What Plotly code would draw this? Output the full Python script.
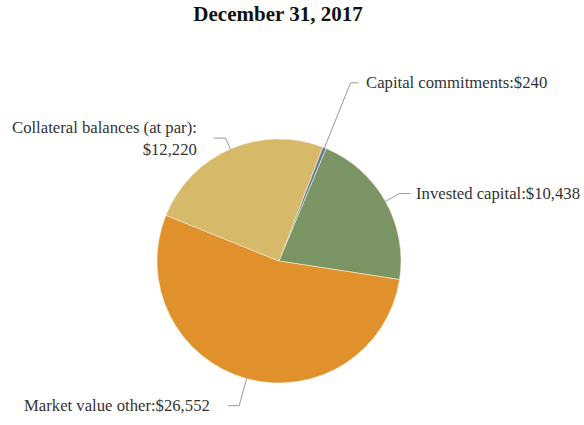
import math
import plotly.graph_objects as go

# Balances at December 31, 2017 (in thousands)
categories = [
    "Capital commitments",
    "Invested capital",
    "Market value other",
    "Collateral balances (at par)",
]
values = [240, 10438, 26552, 12220]
value_labels = ["$240", "$10,438", "$26,552", "$12,220"]
colors = ["#5f7a9a", "#7b9463", "#e1912b", "#d7b96a"]

W, H = 584, 425
CX, CY, R = 279, 261, 122          # pie centre and radius in pixels
ROTATION = 21                      # start angle, degrees clockwise from 12 o'clock

# leader line layout per slice: radial extension, horizontal run, text gap (px), side
leader_ext = [70, 16, 28, 12]
leader_run = [8, 11, 11, 12]
leader_gap = [6, 5, 17, 16]
leader_side = [1, 1, -1, -1]

FONT = "Liberation Serif, Times New Roman, serif"

fig = go.Figure()
fig.add_trace(go.Pie(
    labels=categories,
    values=values,
    sort=False,
    direction="clockwise",
    rotation=ROTATION,
    marker=dict(colors=colors, line=dict(color="#f4ecd8", width=0.6)),
    textinfo="none",
    hoverinfo="label+value",
    showlegend=False,
    domain=dict(x=[(CX - R) / W, (CX + R) / W],
                y=[1 - (CY + R) / H, 1 - (CY - R) / H]),
))


def px(x, y):
    return x / W, 1 - y / H


total = sum(values)
start = ROTATION
shapes, annotations = [], []
for i, v in enumerate(values):
    sweep = 360 * v / total
    mid = math.radians(start + sweep / 2)
    start += sweep
    sx, sy = math.sin(mid), -math.cos(mid)
    x0, y0 = CX + R * sx, CY + R * sy
    x1, y1 = CX + (R + leader_ext[i]) * sx, CY + (R + leader_ext[i]) * sy
    x2, y2 = x1 + leader_side[i] * leader_run[i], y1
    p0, p1, p2 = px(x0, y0), px(x1, y1), px(x2, y2)
    shapes.append(dict(
        type="path", xref="paper", yref="paper",
        path=f"M {p0[0]},{p0[1]} L {p1[0]},{p1[1]} L {p2[0]},{p2[1]}",
        line=dict(color="#9a9a9a", width=1),
    ))
    if categories[i].startswith("Collateral"):
        text = f"{categories[i]}:<br>{value_labels[i]}"
    else:
        text = f"{categories[i]}:{value_labels[i]}"
    tx, ty = px(x2 + leader_side[i] * leader_gap[i], y2)
    annotations.append(dict(
        x=tx, y=ty, xref="paper", yref="paper", text=text, showarrow=False,
        xanchor="left" if leader_side[i] > 0 else "right", yanchor="middle",
        align="right" if leader_side[i] < 0 else "left",
        xshift=0, yshift=0, borderpad=0,
        font=dict(family=FONT, size=16.7, color="#333333"),
    ))

fig.update_layout(
    width=W, height=H,
    margin=dict(l=0, r=0, t=0, b=0),
    paper_bgcolor="white", plot_bgcolor="white",
    title=dict(
        text="<b>December 31, 2017</b>",
        x=278 / W, y=1 - 14 / H, xanchor="center", yanchor="middle",
        font=dict(family=FONT, size=21, color="#111111"),
    ),
    shapes=shapes,
    annotations=annotations,
)

fig.write_html("out.html")
